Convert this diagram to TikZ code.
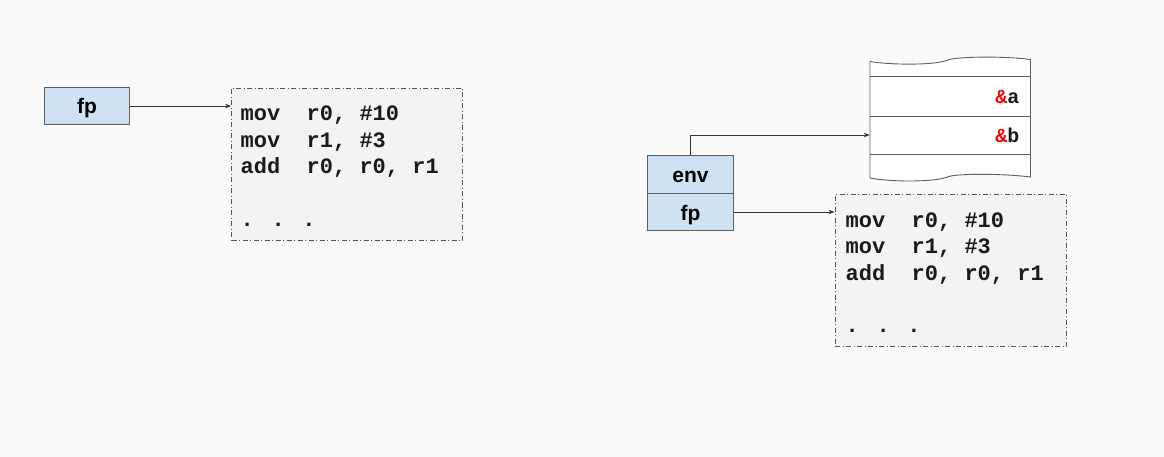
\documentclass[tikz,border=0pt]{standalone}
\usepackage{fontspec}
\setmainfont{Liberation Sans}
\newfontfamily\codefont{Liberation Mono}
\usetikzlibrary{arrows.meta}
\definecolor{bg}{HTML}{FAFAFA}
\definecolor{regblue}{HTML}{CFE2F3}
\definecolor{boxline}{HTML}{5F5F5F}
\definecolor{codegray}{HTML}{F3F3F3}
\definecolor{dashline}{HTML}{555555}
\definecolor{arrowc}{HTML}{333333}
\definecolor{ampred}{HTML}{FF0000}
\definecolor{codetext}{HTML}{1A1A1A}
\tikzset{
  regbox/.style={draw=boxline, fill=regblue, line width=0.9pt, minimum width=85.5pt,
    minimum height=37.5pt, inner sep=0pt, text height=18pt, text depth=2pt,
    font=\fontsize{21}{24}\selectfont\bfseries},
  codebox/.style={draw=dashline, fill=codegray, line width=0.8pt,
    dash pattern=on 5pt off 2.5pt on 1pt off 2.5pt, minimum width=231pt,
    minimum height=152.5pt, inner sep=0pt},
  codeline/.style={anchor=base west, inner sep=0pt, text=codetext,
    font=\codefont\fontsize{22}{26}\selectfont\bfseries},
  amp/.style={anchor=base east, inner sep=0pt, text=codetext,
    font=\codefont\fontsize{20}{24}\selectfont\bfseries},
  stackline/.style={draw=boxline, line width=0.9pt},
  cell/.style={minimum width=160.5pt, minimum height=38pt, inner sep=0pt},
  ptr/.style={draw=arrowc, line width=0.75pt, -{Stealth[length=6pt,width=4.5pt]}}
}
\begin{document}
\begin{tikzpicture}[x=1pt,y=-1pt]
\fill[bg] (0,0) rectangle (1164,457);
\useasboundingbox (0,0) rectangle (1164,457);

% ---------- left side ----------
\node[regbox] (fpA) at (87,106) {fp};
\node[codebox] (codeA) at (347,164.25) {};
\node[codeline] (a1) at (240.5,121) {mov\ \ r0, \#10};
\node[codeline] (a2) at (240.5,147.5) {mov\ \ r1, \#3};
\node[codeline] (a3) at (240.5,174) {add\ \ r0, r0, r1};
\node[codeline] (a4) at (240.5,226.5) {. . .};
\draw[ptr] (fpA.east) -- (fpA.east -| codeA.west);

% ---------- right side ----------
\node[regbox] (env) at (690.5,174.5) {env};
\node[regbox] (fpB) at (690.5,212) {fp};
\node[codebox] (codeB) at (950.5,270.5) {};
\node[codeline] (b1) at (845.5,227) {mov\ \ r0, \#10};
\node[codeline] (b2) at (845.5,253.5) {mov\ \ r1, \#3};
\node[codeline] (b3) at (845.5,280) {add\ \ r0, r0, r1};
\node[codeline] (b4) at (845.5,332.5) {. . .};

% stack
\filldraw[stackline, fill=white]
  (870,61.5) .. controls (890,65) and (935,65.5) .. (948,60)
  .. controls (956,56.5) and (1005,56) .. (1030.5,59.5)
  -- (1030.5,177)
  .. controls (1003,173.5) and (958,173.5) .. (949,176.5)
  .. controls (935,182.5) and (890,182) .. (870,178) -- cycle;
\draw[stackline] (870,76) -- (1030.5,76);
\draw[stackline] (870,116) -- (1030.5,116);
\draw[stackline] (870,154) -- (1030.5,154);
\node[cell] (cellA) at (950.25,96) {};
\node[cell] (cellB) at (950.25,135) {};
\node[amp] (ampA) at (1019.5,103.3) {\textcolor{ampred}{\&}a};
\node[amp] (ampB) at (1019.5,142.5) {\textcolor{ampred}{\&}b};

\draw[ptr] (env.north) |- (cellB.west);
\draw[ptr] (fpB.east) -- (fpB.east -| codeB.west);
\end{tikzpicture}
\end{document}
